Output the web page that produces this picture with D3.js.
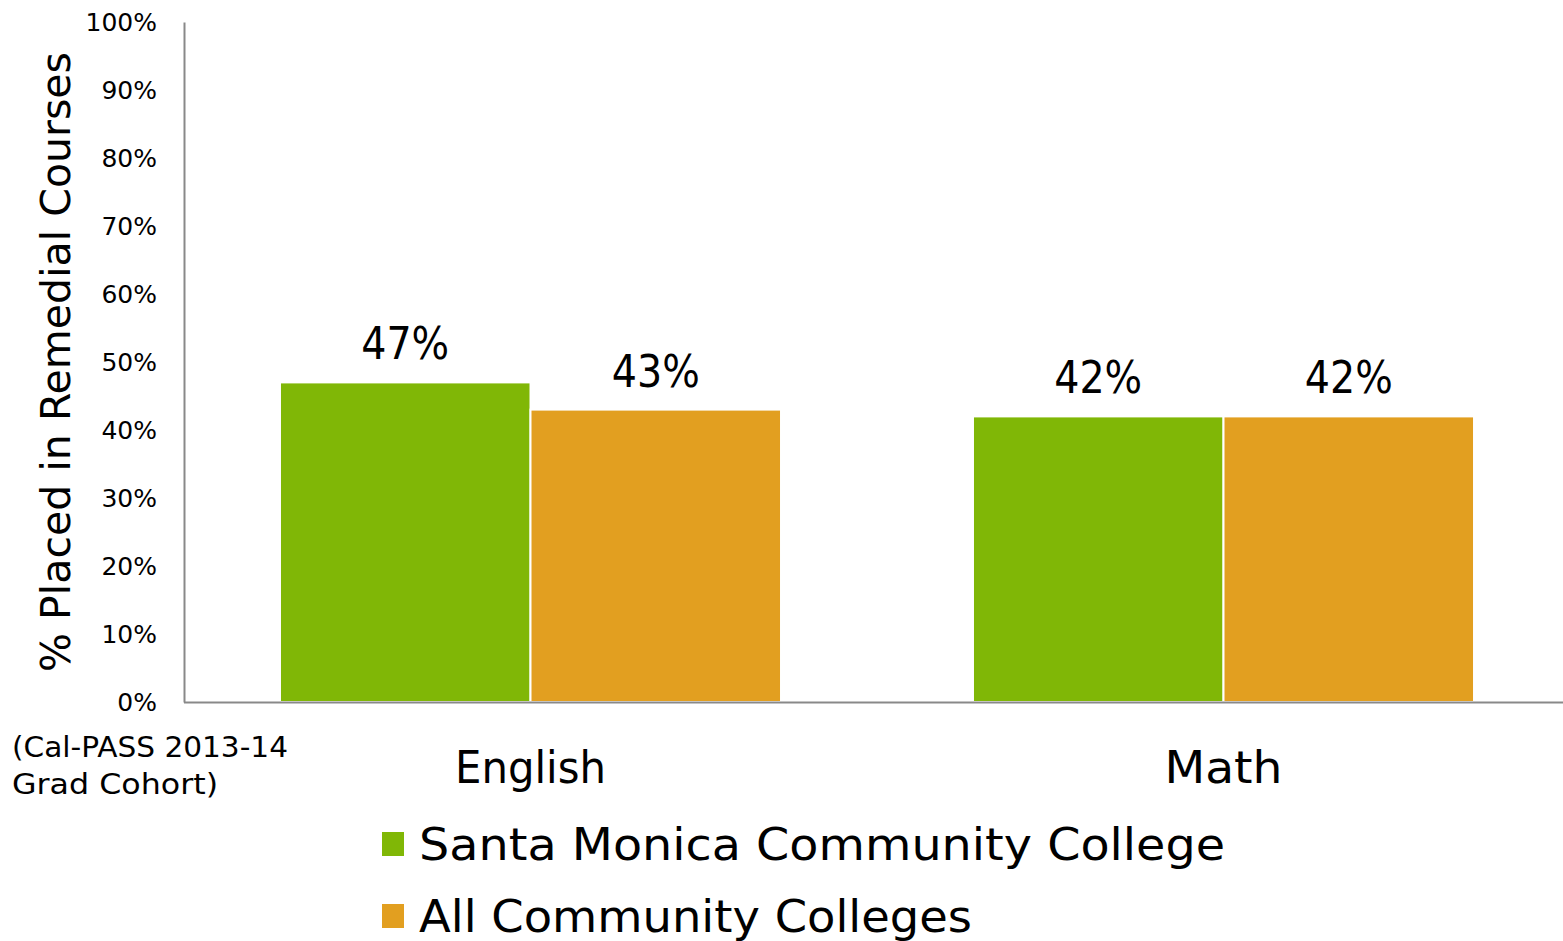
<!DOCTYPE html>
<html>
<head>
<meta charset="utf-8">
<script src="https://cdn.jsdelivr.net/npm/d3@7"></script>
<style>
  html, body { margin: 0; padding: 0; background: #fff; }
  svg { display: block; }
  text { font-family: "DejaVu Sans", sans-serif; fill: #000; }
</style>
</head>
<body>
<svg id="chart" width="1563" height="941"></svg>
<script>
const categories = ["English", "Math"];
const seriesNames = ["Santa Monica Community College", "All Community Colleges"];
const smcValues = [47, 42];
const allValues = [43, 42];
const yTicks = [0, 10, 20, 30, 40, 50, 60, 70, 80, 90, 100];
const colors = ["#80B706", "#E29F20"];

const svg = d3.select("#chart");
const W = 1563, H = 941;
const mLeft = 184, mRight = 1570, mTop = 22, mBottom = 702;

const x = d3.scaleBand().domain(categories).range([mLeft, mRight])
  .paddingInner(0.277).paddingOuter(0.1385);
const xs = d3.scaleBand().domain(seriesNames).range([0, x.bandwidth()]);
const y = d3.scaleLinear().domain([0, 100]).range([mBottom, mTop]);

const data = categories.map((c, i) => ({
  cat: c,
  vals: [
    { s: seriesNames[0], v: smcValues[i], c: colors[0] },
    { s: seriesNames[1], v: allValues[i], c: colors[1] }
  ]
}));

// bars
const g = svg.append("g");
const grp = g.selectAll("g.cat").data(data).join("g")
  .attr("transform", d => `translate(${x(d.cat)},0)`);
grp.selectAll("rect").data(d => d.vals).join("rect")
  .attr("x", d => xs(d.s))
  .attr("y", d => y(d.v))
  .attr("width", xs.bandwidth())
  .attr("height", d => y(0) - y(d.v))
  .attr("fill", d => d.c)
  .attr("stroke", "#fff")
  .attr("stroke-width", 2);
grp.selectAll("text").data(d => d.vals).join("text")
  .attr("x", d => xs(d.s) + xs.bandwidth() / 2)
  .attr("y", d => y(d.v) - 23)
  .attr("text-anchor", "middle")
  .attr("font-size", 44)
  .attr("textLength", 88)
  .attr("lengthAdjust", "spacingAndGlyphs")
  .text(d => d.v + "%");

// y axis
const yAxis = svg.append("g").attr("transform", `translate(${mLeft},0)`)
  .call(d3.axisLeft(y).tickValues(yTicks).tickFormat(d => d + "%").tickSize(0).tickPadding(27));
yAxis.select(".domain").attr("stroke", "#898989").attr("stroke-width", 2);
yAxis.selectAll("text").attr("font-size", 25).attr("font-family", "DejaVu Sans").attr("fill", "#000");

// x axis
const xAxis = svg.append("g").attr("transform", `translate(0,${mBottom})`)
  .call(d3.axisBottom(x).tickSize(0).tickSizeOuter(0));
xAxis.select(".domain").attr("d", `M${mLeft},0.5H${W}`).attr("stroke", "#898989").attr("stroke-width", 2);
xAxis.selectAll("text").attr("y", 81).attr("dy", 0)
  .attr("font-size", 44).attr("font-family", "DejaVu Sans").attr("fill", "#000")
  .attr("lengthAdjust", "spacingAndGlyphs")
  .attr("textLength", d => d === "English" ? 151 : 118);

// y axis title
svg.append("text")
  .attr("transform", `translate(70,${(52 + 672) / 2}) rotate(-90)`)
  .attr("text-anchor", "middle")
  .attr("font-size", 40)
  .attr("textLength", 620)
  .attr("lengthAdjust", "spacingAndGlyphs")
  .text("% Placed in Remedial Courses");

// source note
const note = svg.append("text").attr("font-size", 29);
note.append("tspan").attr("x", 12).attr("y", 757).attr("textLength", 276).attr("lengthAdjust", "spacingAndGlyphs").text("(Cal-PASS 2013-14");
note.append("tspan").attr("x", 12).attr("y", 794).attr("textLength", 206).attr("lengthAdjust", "spacingAndGlyphs").text("Grad Cohort)");

// legend
const legendW = [806, 553];
const lg = svg.append("g");
seriesNames.forEach((s, i) => {
  const yy = 832 + i * 72;
  lg.append("rect").attr("x", 382).attr("y", yy).attr("width", 22).attr("height", 24).attr("fill", colors[i]);
  lg.append("text").attr("x", 419).attr("y", yy + 28)
    .attr("font-size", 44)
    .attr("textLength", legendW[i])
    .attr("lengthAdjust", "spacingAndGlyphs")
    .text(s);
});
</script>
</body>
</html>
